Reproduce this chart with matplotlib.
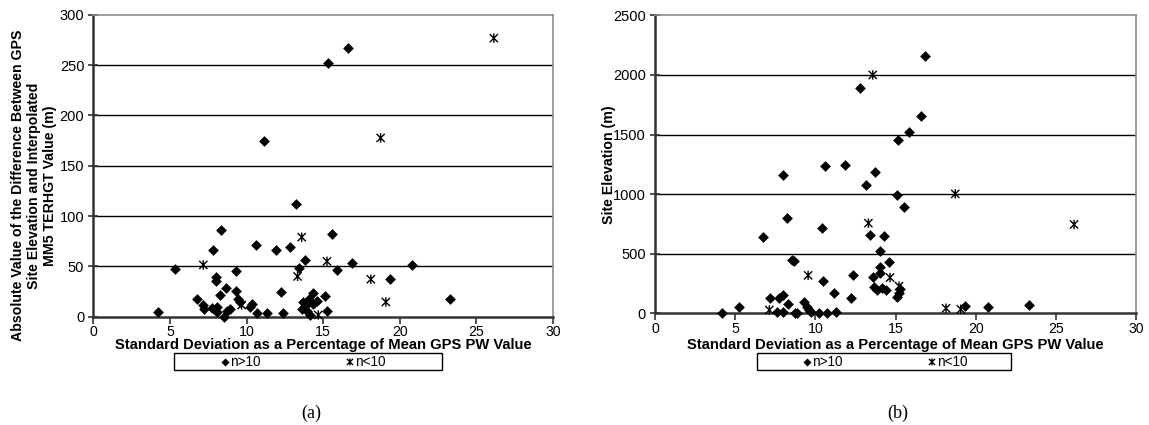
import matplotlib
matplotlib.use("Agg")
import matplotlib.pyplot as plt
from matplotlib.path import Path
from matplotlib.patches import Rectangle

# ---------------- data ----------------
# Panel (a): |site elevation - MM5 TERHGT| (m) vs std dev %
a_many_x = [4.24, 5.3, 6.79, 7.18, 7.22, 7.72, 7.79, 8.0, 8.0, 8.05, 8.05, 8.24, 8.31,
            8.53, 8.68, 8.74, 8.92, 9.31, 9.31, 9.46, 9.57, 10.22, 10.37, 10.6, 10.68,
            11.16, 11.31, 11.92, 12.22, 12.37, 12.83, 13.22, 13.44, 13.59, 13.66, 13.81,
            13.81, 13.92, 14.09, 14.13, 14.31, 14.35, 14.57, 15.14, 15.22, 15.29, 15.55,
            15.92, 16.63, 16.88, 19.33, 20.77, 23.31]
a_many_y = [5, 47, 17.5, 11.6, 7.3, 8.3, 66, 39.5, 35.5, 9.3, 5, 22, 86,
            0, 29, 5.7, 8, 45, 26, 17.3, 15, 10, 12.6, 71, 4,
            174.7, 4, 66.3, 24.5, 3.4, 69, 111.7, 48, 7.3, 15, 56,
            10.6, 5.7, 17.3, 1.7, 23.3, 12.6, 15.6, 20.6, 6, 252, 82,
            46.4, 267, 53, 37.8, 51.7, 17.6]
a_few_x = [7.18, 9.68, 13.33, 13.6, 14.68, 15.25, 18.11, 18.75, 19.09, 26.14]
a_few_y = [51.4, 11.6, 40, 79, 1.7, 55, 37.2, 177.6, 14.6, 276.7]

# Panel (b): site elevation (m) vs std dev %
b_many_x = [4.2, 5.26, 6.74, 7.19, 7.63, 7.76, 7.97, 7.97, 8.0, 8.22, 8.28, 8.55, 8.7,
            8.73, 8.88, 9.28, 9.45, 9.6, 9.72, 10.2, 10.4, 10.46, 10.59, 10.71, 11.17,
            11.29, 11.87, 12.25, 12.37, 12.81, 13.18, 13.41, 13.6, 13.63, 13.74, 13.82,
            14.04, 14.05, 14.05, 14.14, 14.3, 14.41, 14.6, 15.12, 15.12, 15.2, 15.28,
            15.18, 15.53, 15.86, 16.61, 16.86, 19.36, 20.75, 23.31]
b_many_y = [5, 56, 639, 125, 8, 128, 157, 1162, 8, 801, 76, 448, 440,
            5, 5, 98, 50, 25, 8, 5, 714, 270, 1232, 5, 168,
            10, 1246, 126, 322, 1887, 1078, 655, 308, 218, 1187, 196,
            335, 526, 392, 210, 652, 196, 434, 991, 134, 168, 200,
            1456, 890, 1521, 1652, 2162, 61, 50, 72]
b_few_x = [7.13, 9.55, 13.31, 13.58, 14.66, 15.22, 18.15, 18.73, 19.07, 26.14]
b_few_y = [28, 318, 756, 2000, 300, 228, 42, 1002, 34, 745]

x_ticks = [0, 5, 10, 15, 20, 25, 30]
a_yticks = [0, 50, 100, 150, 200, 250, 300]
b_yticks = [0, 500, 1000, 1500, 2000, 2500]
labels = ["n>10", "n<10"]
xlabel = "Standard Deviation as a Percentage of Mean GPS PW Value"
a_ylabel = ("Absolute Value of the Difference Between GPS\n"
            "Site Elevation and Interpolated\nMM5 TERHGT Value (m)")
b_ylabel = "Site Elevation (m)"

# ---------------- style ----------------
plt.rcParams["font.family"] = ["Liberation Sans", "DejaVu Sans"]

star = Path([(-1, -1), (1, 1), (-1, 1), (1, -1), (0, -1.15), (0, 1.15)],
            [Path.MOVETO, Path.LINETO, Path.MOVETO, Path.LINETO, Path.MOVETO, Path.LINETO])

W, H = 1149, 425
fig = plt.figure(figsize=(W / 100, H / 100), dpi=100)

def px_axes(x0, x1, y0, y1):
    return fig.add_axes([x0 / W, 1 - y1 / H, (x1 - x0) / W, (y1 - y0) / H])

ax_a = px_axes(93.3, 553, 14.7, 316.7)
ax_b = px_axes(655, 1136, 15.3, 313.3)

def style(ax, yticks, ymax):
    ax.set_xlim(0, 30)
    ax.set_ylim(0, ymax)
    ax.set_xticks(x_ticks)
    ax.set_yticks(yticks)
    for yv in yticks[1:-1]:
        ax.axhline(yv, color="black", lw=1.0, zorder=1)
    for s in ("top", "right"):
        ax.spines[s].set_color("#8c8c8c")
        ax.spines[s].set_linewidth(1.2)
    for s in ("left", "bottom"):
        ax.spines[s].set_color("#333333")
        ax.spines[s].set_linewidth(1.8)
    ax.tick_params(axis="x", direction="out", length=5, width=1.2, color="#333333",
                   labelsize=10.2, pad=1)
    ax.tick_params(axis="y", direction="inout", length=7, width=1.2, color="#333333",
                   labelsize=10.5, pad=3)

def draw(ax, mx, my, fx, fy):
    h1 = ax.scatter(mx, my, marker="D", s=30, color="black", linewidths=0,
                    zorder=3, clip_on=False)
    h2 = ax.scatter(fx, fy, marker=star, s=46, facecolors="none", edgecolors="black",
                    linewidths=1.0, zorder=3, clip_on=False)
    return h1, h2

style(ax_a, a_yticks, 300)
style(ax_b, b_yticks, 2500)
ha = draw(ax_a, a_many_x, a_many_y, a_few_x, a_few_y)
hb = draw(ax_b, b_many_x, b_many_y, b_few_x, b_few_y)

for ax, ylab, ylx, yly, (ax_top, ax_bot) in ((ax_a, a_ylabel, -0.08, 0.435, (14.7, 316.7)),
                                             (ax_b, b_ylabel, -0.081, 0.5, (15.3, 313.3))):
    ax.set_xlabel(xlabel, fontsize=10.6, fontweight="bold")
    ax.set_ylabel(ylab, fontsize=10.2, fontweight="bold", linespacing=1.15)
    ax.xaxis.set_label_coords(0.5, (ax_bot - 338.5) / (ax_bot - ax_top))
    ax.yaxis.set_label_coords(ylx, yly)

# legends with boxes
for handles, (bx0, bx1), cx, lab_x, lab in ((ha, (174, 442), 303, 311.7, "(a)"),
                                           (hb, (757, 1011), 885, 898, "(b)")):
    by0, by1 = 352.5, 369.5
    fig.add_artist(Rectangle((bx0 / W, 1 - by1 / H), (bx1 - bx0) / W, (by1 - by0) / H,
                             transform=fig.transFigure, fill=False, edgecolor="black",
                             linewidth=1.0))
    fig.legend(handles, labels, loc="center", bbox_to_anchor=(cx / W, 1 - ((by0 + by1) / 2 + 0.5) / H),
               ncol=2, frameon=False, fontsize=9.8, handletextpad=0.05, handlelength=0.6,
               columnspacing=6.3, borderpad=0, scatterpoints=1,
               markerscale=0.75)
    fig.text(lab_x / W, 1 - 413 / H, lab, ha="center", va="center",
             fontsize=13, family=["Liberation Serif", "DejaVu Serif"])

fig.savefig("out.png", dpi=100)
